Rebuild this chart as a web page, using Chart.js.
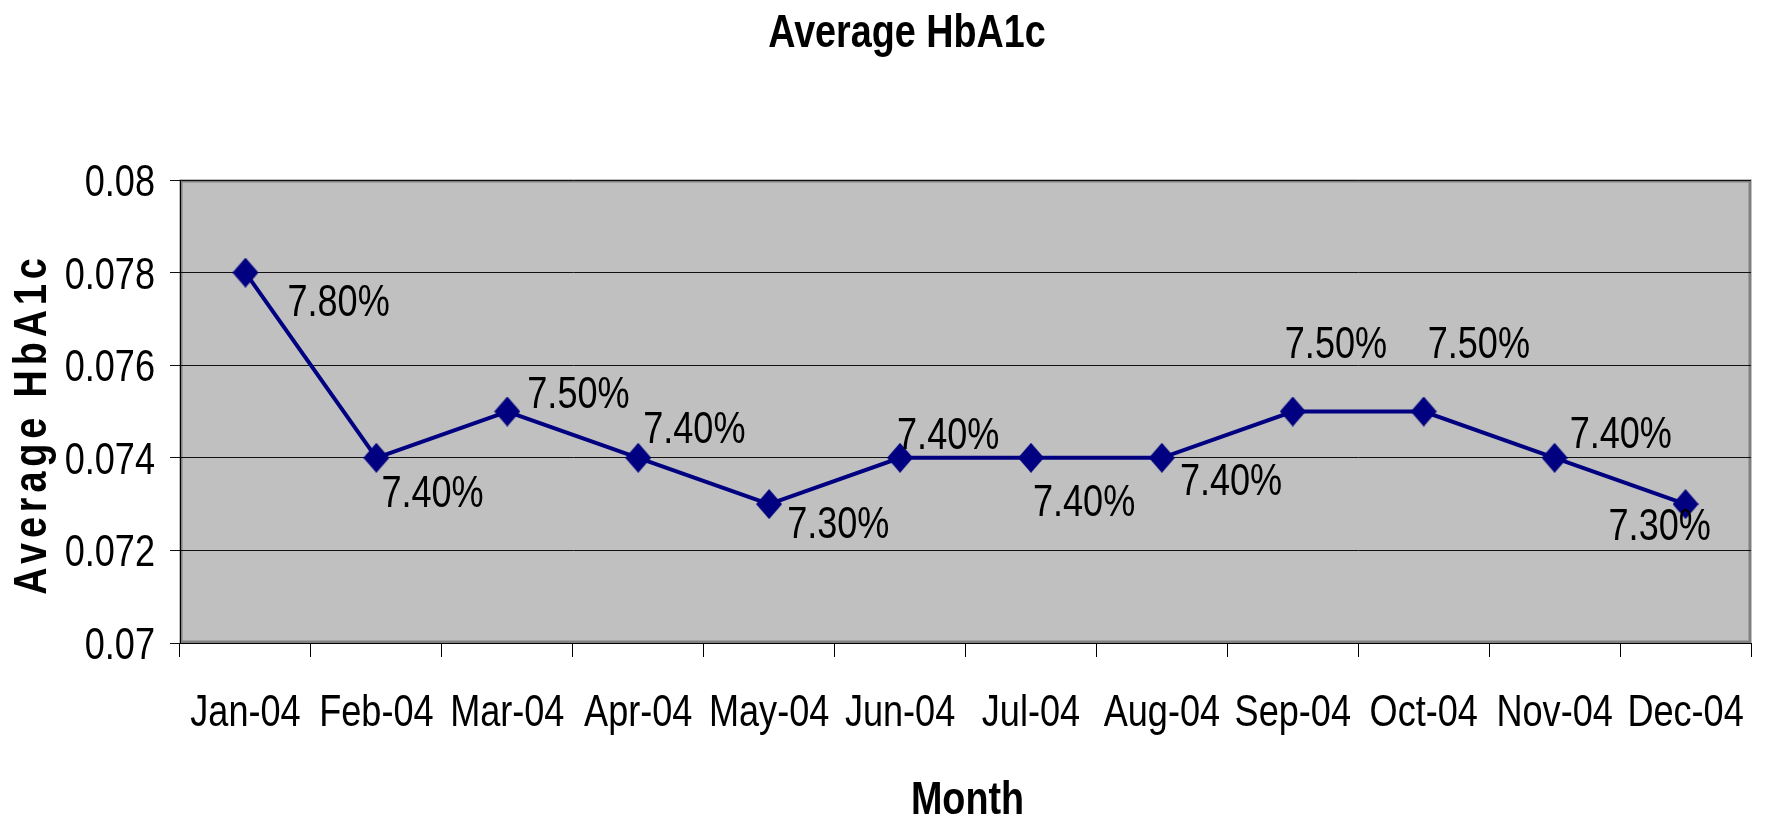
<!DOCTYPE html>
<html>
<head>
<meta charset="utf-8">
<title>Average HbA1c</title>
<script src="https://cdn.jsdelivr.net/npm/chart.js@4.4.1/dist/chart.umd.min.js"></script>
<style>
    html, body { margin: 0; padding: 0; background: #fff; }
    #wrap { width: 1768px; height: 818px; }
</style>
</head>
<body>
<div id="wrap"><canvas id="hba1cChart" width="1768" height="818"></canvas></div>
<script>
// Data dari grafik
const months = ['Jan-04', 'Feb-04', 'Mar-04', 'Apr-04', 'May-04', 'Jun-04',
    'Jul-04', 'Aug-04', 'Sep-04', 'Oct-04', 'Nov-04', 'Dec-04'];
const hba1cValues = [0.078, 0.074, 0.075, 0.074, 0.073, 0.074,
    0.074, 0.074, 0.075, 0.075, 0.074, 0.073];
const yTickValues = [0.07, 0.072, 0.074, 0.076, 0.078, 0.08];
const yTickLabels = ['0.07', '0.072', '0.074', '0.076', '0.078', '0.08'];

const chartTitle = 'Average HbA1c';
const yAxisTitle = 'Average HbA1c';
const xAxisTitle = 'Month';

// posisi label data relatif ke titik (dx kiri teks, dy baseline)
const labelOffsets = [
    [42, 43], [5, 49], [20, -4], [5, -15], [18, 34], [-3, -9],
    [2, 58], [18, 37], [-8, -54], [4, -54], [15, -10], [-77, 36]
];

// font sempit (Arial Narrow tidak ada) -> Liberation Sans dipersempit
const FONT = '"Liberation Sans", Arial, sans-serif';
const NARROW_X = 0.82;

function drawNarrow(ctx, text, x, y, align, font, spacing) {
    ctx.save();
    ctx.translate(x, y);
    ctx.scale(NARROW_X, 1);
    ctx.font = font;
    ctx.textAlign = align;
    ctx.textBaseline = 'alphabetic';
    if (spacing) ctx.letterSpacing = spacing;
    ctx.fillText(text, 0, 0);
    ctx.restore();
}

// marker belah ketupat (sedikit lebih tinggi dari lebarnya, seperti Excel)
function makeDiamond(w, h, color) {
    const c = document.createElement('canvas');
    c.width = w;
    c.height = h;
    const g = c.getContext('2d');
    g.fillStyle = color;
    g.beginPath();
    g.moveTo(w / 2, 0);
    g.lineTo(w, h / 2);
    g.lineTo(w / 2, h);
    g.lineTo(0, h / 2);
    g.closePath();
    g.fill();
    return c;
}

// latar abu-abu area plot
const plotBackground = {
    id: 'plotBackground',
    beforeDraw(chart) {
        const { ctx, chartArea: a } = chart;
        ctx.save();
        ctx.fillStyle = '#C0C0C0';
        ctx.fillRect(a.left, a.top, a.right - a.left, a.bottom - a.top);
        ctx.strokeStyle = '#808080';
        ctx.lineWidth = 3;
        ctx.strokeRect(a.left + 1, a.top + 1, a.right - a.left - 2, a.bottom - a.top - 2);
        ctx.restore();
    }
};

// label tick, judul dan label sumbu digambar manual
const titles = {
    id: 'titles',
    afterDraw(chart) {
        const ctx = chart.ctx;
        const a = chart.chartArea;
        const xs = chart.scales.x;
        const ys = chart.scales.y;
        ctx.save();
        ctx.fillStyle = '#000';

        const tickFont = '44px ' + FONT;
        months.forEach((m, i) => {
            drawNarrow(ctx, m, xs.getPixelForTick(i), 726, 'center', tickFont);
        });
        yTickValues.forEach((v, i) => {
            drawNarrow(ctx, yTickLabels[i], 155, ys.getPixelForValue(v) + 16, 'right', tickFont);
        });

        const boldFont = 'bold 46px ' + FONT;
        drawNarrow(ctx, chartTitle, 907, 47, 'center', boldFont);
        drawNarrow(ctx, xAxisTitle, (a.left + a.right) / 2 + 2, 814, 'center', boldFont);

        ctx.save();
        ctx.translate(46, 424);
        ctx.rotate(-Math.PI / 2);
        drawNarrow(ctx, yAxisTitle, 0, 0, 'center', boldFont, '6px');
        ctx.restore();
        ctx.restore();
    }
};

// label nilai persen di tiap titik
const pointLabels = {
    id: 'pointLabels',
    afterDatasetsDraw(chart) {
        const ctx = chart.ctx;
        const meta = chart.getDatasetMeta(0);
        ctx.save();
        ctx.fillStyle = '#000';
        meta.data.forEach((pt, i) => {
            const txt = (hba1cValues[i] * 100).toFixed(2) + '%';
            const off = labelOffsets[i];
            drawNarrow(ctx, txt, pt.x + off[0], pt.y + off[1], 'left', '44px ' + FONT);
        });
        ctx.restore();
    }
};

const diamond = makeDiamond(26, 30, '#000080');

const ctx = document.getElementById('hba1cChart').getContext('2d');
new Chart(ctx, {
    type: 'line',
    data: {
        labels: months,
        datasets: [{
            label: 'Average HbA1c',
            data: hba1cValues,
            borderColor: '#000080',
            borderWidth: 4,
            pointStyle: diamond,
            pointRadius: 13,
            tension: 0,
            fill: false
        }]
    },
    options: {
        responsive: false,
        animation: false,
        layout: { padding: { top: 180, right: 13, left: 0, bottom: 0 } },
        plugins: {
            legend: { display: false },
            tooltip: { enabled: false },
            title: { display: false }
        },
        scales: {
            x: {
                offset: true,
                afterFit: (scale) => { scale.height = 175; },
                grid: {
                    display: true,
                    offset: true,
                    drawOnChartArea: false,
                    drawTicks: true,
                    tickLength: 14,
                    color: '#000',
                    lineWidth: 1
                },
                border: { display: true, color: '#000', width: 1 },
                ticks: { display: false, autoSkip: false }
            },
            y: {
                min: 0.07,
                max: 0.08,
                afterFit: (scale) => { scale.width = 180; },
                afterBuildTicks: (scale) => {
                    scale.ticks = yTickValues.map(v => ({ value: v }));
                },
                grid: {
                    color: '#111',
                    lineWidth: 1,
                    drawTicks: true,
                    tickLength: 10
                },
                border: { display: true, color: '#000', width: 1 },
                ticks: { display: false }
            }
        }
    },
    plugins: [plotBackground, pointLabels, titles]
});
</script>
</body>
</html>
